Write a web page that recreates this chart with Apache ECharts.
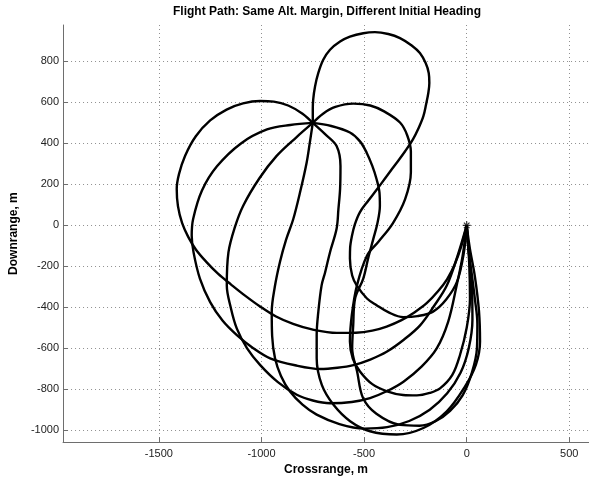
<!DOCTYPE html>
<html>
<head>
<meta charset="utf-8">
<script src="https://cdn.jsdelivr.net/npm/echarts@6/dist/echarts.min.js"></script>
<style>
html,body{margin:0;padding:0;background:#fff;}
#chart{width:589px;height:481px;}
</style>
</head>
<body>
<div id="chart"></div>
<script>
// Tick labels
const xTicks = [-1500, -1000, -500, 0, 500];
const yTicks = [-1000, -800, -600, -400, -200, 0, 200, 400, 600, 800];

// Target point marker
const targetPoint = [[0, 0]];

// Flight paths (Crossrange, Downrange) in metres, one per initial heading
const pathN = [[-750,500],[-750,565],[-748,614],[-739,678],[-723,744],[-699,808],[-666,857],[-617,897],[-569,921],[-504,938],[-447,943],[-382,934],[-325,914],[-268,878],[-228,841],[-200,792],[-185,744],[-182,695],[-187,646],[-198,590],[-211,533],[-233,478],[-262,420],[-300,362],[-340,307],[-390,240],[-437,176],[-480,120],[-520,65],[-545,5],[-559,-51],[-568,-110],[-569,-162],[-558,-245],[-536,-293],[-486,-357],[-439,-390],[-380,-425],[-309,-448],[-240,-443],[-164,-421],[-100,-362],[-47,-275],[-15,-140],[0,0]];
const pathNE = [[-750,500],[-700,545],[-640,578],[-552,594],[-470,585],[-400,555],[-325,502],[-290,440],[-272,360],[-272,259],[-300,128],[-360,10],[-430,-80],[-486,-148],[-535,-294],[-560,-440],[-569,-567],[-555,-650],[-520,-713],[-460,-775],[-388,-810],[-310,-828],[-243,-830],[-180,-818],[-130,-796],[-70,-730],[-33,-634],[0,-500],[16,-358],[12,-180],[0,0]];
const pathE = [[-750,500],[-660,485],[-569,453],[-520,410],[-488,356],[-460,290],[-439,225],[-425,160],[-423,96],[-435,10],[-455,-66],[-480,-160],[-504,-260],[-544,-358],[-553,-489],[-558,-601],[-534,-713],[-505,-843],[-440,-920],[-325,-974],[-230,-978],[-150,-955],[-81,-906],[-20,-830],[25,-720],[50,-600],[52,-480],[40,-360],[25,-240],[8,-110],[0,0]];
const pathSE = [[-750,500],[-690,445],[-634,387],[-615,290],[-617,177],[-625,80],[-634,-17],[-666,-131],[-690,-230],[-707,-293],[-723,-422],[-731,-536],[-731,-649],[-706,-779],[-649,-876],[-568,-956],[-471,-1005],[-341,-1021],[-211,-989],[-97,-908],[-10,-790],[45,-680],[65,-567],[60,-420],[40,-250],[15,-110],[0,0]];
const pathS = [[-750,500],[-765,400],[-780,306],[-810,170],[-845,31],[-880,-70],[-910,-179],[-935,-300],[-950,-422],[-948,-540],[-934,-649],[-905,-735],[-861,-811],[-800,-875],[-731,-924],[-620,-970],[-500,-992],[-388,-985],[-280,-955],[-180,-900],[-95,-820],[-30,-720],[10,-600],[28,-460],[25,-300],[12,-150],[0,0]];
const pathSW = [[-750,500],[-830,430],[-926,339],[-1010,230],[-1089,96],[-1130,-10],[-1161,-132],[-1169,-294],[-1150,-400],[-1120,-504],[-1070,-600],[-1006,-682],[-920,-765],[-828,-827],[-750,-855],[-666,-868],[-560,-862],[-471,-843],[-390,-810],[-308,-763],[-220,-690],[-146,-601],[-90,-470],[-49,-294],[-20,-150],[0,0]];
const pathW = [[-750,500],[-860,490],[-973,468],[-1100,400],[-1217,288],[-1290,170],[-1333,31],[-1340,-50],[-1331,-132],[-1300,-260],[-1250,-375],[-1190,-465],[-1120,-536],[-1040,-600],[-958,-649],[-836,-683],[-714,-701],[-630,-695],[-552,-682],[-470,-655],[-390,-617],[-305,-557],[-227,-488],[-160,-395],[-97,-294],[-45,-150],[0,0]];
const pathNW = [[-750,500],[-800,545],[-870,585],[-940,604],[-1007,607],[-1090,595],[-1170,565],[-1250,512],[-1320,435],[-1372,340],[-1402,250],[-1413,177],[-1407,94],[-1387,12],[-1357,-56],[-1319,-119],[-1270,-177],[-1212,-236],[-1148,-289],[-1080,-343],[-1007,-396],[-929,-445],[-846,-481],[-754,-508],[-633,-525],[-540,-524],[-460,-514],[-390,-494],[-320,-464],[-255,-425],[-195,-380],[-140,-322],[-95,-262],[-58,-190],[-25,-98],[0,0]];

const paths = [pathN, pathNE, pathE, pathSE, pathS, pathSW, pathW, pathNW];

const font = 'Liberation Sans, Arial, Helvetica, sans-serif';
const chart = echarts.init(document.getElementById('chart'), null, {renderer: 'canvas'});

const lineSeries = paths.map(p => ({
  type: 'line',
  data: p,
  showSymbol: false,
  smooth: 0.35,
  silent: true,
  lineStyle: {color: '#000', width: 2.4},
  z: 3
}));

const plain = v => String(v);

chart.setOption({
  animation: false,
  backgroundColor: '#fff',
  grid: {left: 63, top: 25, right: 0, bottom: 37, containLabel: false},
  graphic: [{
    type: 'text',
    style: {x: 327, y: 12, text: 'Flight Path: Same Alt. Margin, Different Initial Heading',
      align: 'center', verticalAlign: 'middle', font: 'bold 12px ' + font, fill: '#000'}
  }],
  xAxis: {
    type: 'value', min: -1967, max: 596,
    name: 'Crossrange, m', nameLocation: 'middle', nameGap: 18,
    nameTextStyle: {fontFamily: font, fontWeight: 'bold', fontSize: 12, color: '#000'},
    axisLine: {show: true, onZero: false, lineStyle: {color: '#6e6e6e', width: 1}},
    axisTick: {show: true, inside: true, length: 5, customValues: xTicks, lineStyle: {color: '#6e6e6e'}},
    axisLabel: {customValues: xTicks, formatter: plain, fontFamily: font, fontSize: 11, color: '#222', margin: 6},
    splitLine: {show: true, lineStyle: {color: '#909090', type: [1, 3], width: 1}}
  },
  yAxis: {
    type: 'value', min: -1058, max: 978,
    name: 'Downrange, m', nameLocation: 'middle', nameGap: 38, nameRotate: 90,
    nameTextStyle: {fontFamily: font, fontWeight: 'bold', fontSize: 12, color: '#000'},
    axisLine: {show: true, onZero: false, lineStyle: {color: '#6e6e6e', width: 1}},
    axisTick: {show: true, inside: true, length: 5, customValues: yTicks, lineStyle: {color: '#6e6e6e'}},
    axisLabel: {customValues: yTicks, formatter: plain, fontFamily: font, fontSize: 11, color: '#222', margin: 4},
    splitLine: {show: true, lineStyle: {color: '#909090', type: [1, 3], width: 1}}
  },
  series: lineSeries.concat([{
    type: 'scatter',
    data: targetPoint,
    symbol: 'path://M0,-10L0,10M-10,0L10,0M-7,-7L7,7M-7,7L7,-7',
    symbolSize: 8,
    silent: true,
    itemStyle: {color: 'none', borderColor: '#000', borderWidth: 1.2},
    z: 4
  }])
});
</script>
</body>
</html>
